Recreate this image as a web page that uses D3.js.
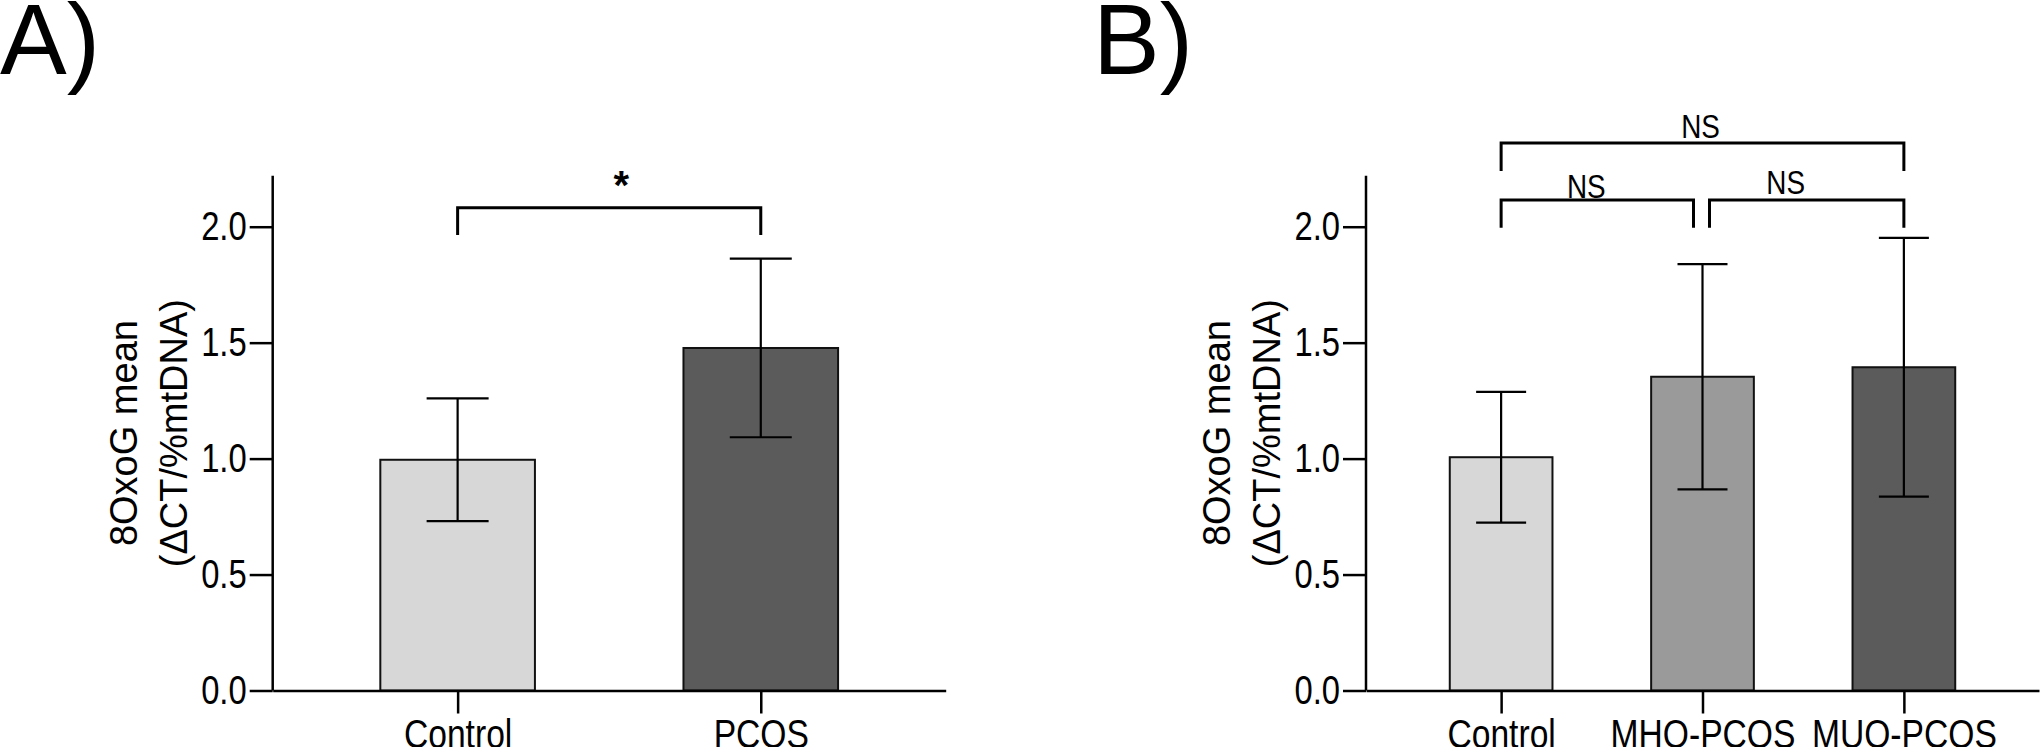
<!DOCTYPE html>
<html><head><meta charset="utf-8">
<script src="https://cdn.jsdelivr.net/npm/d3@7"></script>
<style>
body{margin:0;background:#fff}
svg text{font-family:"Liberation Sans",Arial,Helvetica,sans-serif;fill:#000}
</style>
</head><body>
<svg id="chart" width="2040" height="747"></svg>
<script>
// ---------- data ----------
const categoriesA = ["Control", "PCOS"];
const meansA = [0.995, 1.477];
const sdA = [0.265, 0.385];
const colorsA = ["#d7d7d7", "#5b5b5b"];

const categoriesB = ["Control", "MHO-PCOS", "MUO-PCOS"];
const meansB = [1.006, 1.353, 1.394];
const sdB = [0.282, 0.486, 0.558];
const colorsB = ["#d7d7d7", "#9a9a9a", "#5b5b5b"];

const yTicks = [0, 0.5, 1.0, 1.5, 2.0];
const yTitleLines = ["8OxoG mean", "(ΔCT/%mtDNA)"];
const panelLabels = ["A)", "B)"];

// significance brackets: group indices, heights in data units, label
const bracketsA = [{from: 0, to: 1, top: 2.082, leg: 1.964, label: "*"}];
const bracketsB = [
  {from: 0, to: 1, top: 2.115, leg: 1.996, label: "NS"},
  {from: 1, to: 2, top: 2.115, leg: 1.996, label: "NS"},
  {from: 0, to: 2, top: 2.361, leg: 2.240, label: "NS"}
];

// ---------- layout ----------
const NARROW = 0.82; // horizontal squeeze to mimic a narrow sans face
const svg = d3.select("#chart");
svg.append("rect").attr("width", 2040).attr("height", 747).attr("fill", "#fff");

const y = d3.scaleLinear().domain([0, 2.22]).range([690.5, 175.7]);
const axisW = 673;

function drawPanel(cfg) {
  const g = svg.append("g");
  const x0 = cfg.axisX;
  const x = d3.scalePoint().domain(cfg.cats).range([x0, x0 + axisW]).padding(cfg.pad);
  const step = x.step();
  const barW = step * 0.51;

  // panel label
  g.append("text").attr("x", cfg.labelX).attr("y", 74)
    .style("font-size", "100px").text(cfg.label);

  // bars
  g.selectAll("rect.bar").data(cfg.cats).enter().append("rect")
    .attr("class", "bar")
    .attr("x", d => x(d) - barW / 2)
    .attr("y", (d, i) => y(cfg.means[i]))
    .attr("width", barW)
    .attr("height", (d, i) => y(0) - y(cfg.means[i]))
    .attr("fill", (d, i) => cfg.colors[i])
    .attr("stroke", "#111").attr("stroke-width", 2);

  // error bars
  const eb = g.selectAll("g.err").data(cfg.cats).enter().append("g")
    .attr("stroke", "#000").attr("stroke-width", 2.2);
  eb.append("line")
    .attr("x1", d => x(d)).attr("x2", d => x(d))
    .attr("y1", (d, i) => y(cfg.means[i] + cfg.sd[i]))
    .attr("y2", (d, i) => y(cfg.means[i] - cfg.sd[i]));
  eb.append("line")
    .attr("x1", d => x(d) - cfg.capW / 2).attr("x2", d => x(d) + cfg.capW / 2)
    .attr("y1", (d, i) => y(cfg.means[i] + cfg.sd[i]))
    .attr("y2", (d, i) => y(cfg.means[i] + cfg.sd[i]));
  eb.append("line")
    .attr("x1", d => x(d) - cfg.capW / 2).attr("x2", d => x(d) + cfg.capW / 2)
    .attr("y1", (d, i) => y(cfg.means[i] - cfg.sd[i]))
    .attr("y2", (d, i) => y(cfg.means[i] - cfg.sd[i]));

  // y axis
  const ya = g.append("g").attr("transform", `translate(${x0},0)`)
    .call(d3.axisLeft(y).tickValues(yTicks).tickFormat(d3.format(".1f"))
      .tickSize(23).tickSizeOuter(0).tickPadding(3));
  ya.select(".domain").attr("stroke-width", 2.5).attr("d", `M0,${y(0)}V${y.range()[1]}`);
  ya.selectAll(".tick line").attr("stroke-width", 2.5);
  ya.selectAll(".tick text")
    .attr("x", -26 / NARROW)
    .attr("transform", `scale(${NARROW},1)`)
    .style("font-size", "40px").attr("fill", "#000");

  // x axis
  const xa = g.append("g").attr("transform", `translate(0,${y(0)})`)
    .call(d3.axisBottom(x).tickSize(23).tickSizeOuter(0).tickPadding(5));
  xa.select(".domain").attr("stroke-width", 2.5);
  xa.selectAll(".tick line").attr("stroke-width", 2.5);
  xa.selectAll(".tick text")
    .attr("transform", `scale(${NARROW},1)`)
    .style("font-size", "41px").attr("fill", "#000");

  // y title
  yTitleLines.forEach((t, k) => {
    g.append("text")
      .attr("transform", `translate(${x0 - 135.7 + k * 50},${(y(0) + y.range()[1]) / 2}) rotate(-90)`)
      .attr("text-anchor", "middle")
      .style("font-size", "38px").text(t);
  });

  // brackets
  cfg.brackets.forEach((b, k) => {
    const lay = cfg.bracketLayout[k];
    const xa1 = x(cfg.cats[b.from]) + lay.inL;
    const xa2 = x(cfg.cats[b.to]) - lay.inR;
    g.append("path")
      .attr("d", `M${xa1},${y(b.leg)}V${y(b.top)}H${xa2}V${y(b.leg)}`)
      .attr("fill", "none").attr("stroke", "#000").attr("stroke-width", 3);
    g.append("text")
      .attr("transform", `translate(${(xa1 + xa2) / 2 + lay.dx},${y(b.top) - lay.dy}) scale(${lay.narrow ? NARROW : 1},1)`)
      .attr("text-anchor", "middle")
      .style("font-size", lay.size + "px")
      .style("font-weight", lay.bold ? "bold" : "normal")
      .text(b.label);
  });
}

drawPanel({
  axisX: 272.7, pad: 0.61, capW: 62, labelX: 0, label: panelLabels[0],
  cats: categoriesA, means: meansA, sd: sdA, colors: colorsA,
  brackets: bracketsA,
  bracketLayout: [{inL: 0, inR: 0, dx: 12, dy: 8.5, size: 40, bold: true}]
});

drawPanel({
  axisX: 1366, pad: 0.671, capW: 50, labelX: 1093, label: panelLabels[1],
  cats: categoriesB, means: meansB, sd: sdB, colors: colorsB,
  brackets: bracketsB,
  bracketLayout: [
    {inL: 0, inR: 9, dx: -11, dy: 2.5, size: 34, narrow: true},
    {inL: 7, inR: 0, dx: -21, dy: 6, size: 34, narrow: true},
    {inL: 0, inR: 0, dx: -2, dy: 5.5, size: 34, narrow: true}
  ]
});
</script>
</body></html>
